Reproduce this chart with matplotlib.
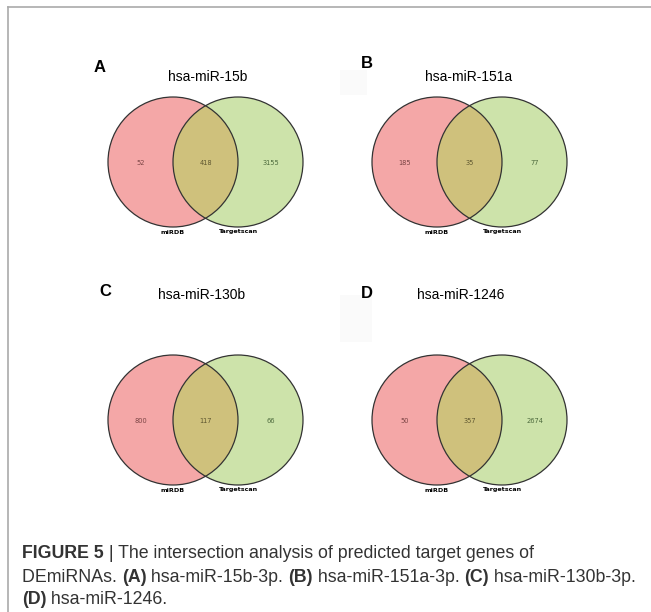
import matplotlib
matplotlib.use("Agg")
import matplotlib.pyplot as plt
from matplotlib.patches import Circle, Rectangle
from matplotlib.lines import Line2D

# Venn data for each panel
panel_letters = ["A", "B", "C", "D"]
panel_titles = ["hsa-miR-15b", "hsa-miR-151a", "hsa-miR-130b", "hsa-miR-1246"]
only_mirdb = [52, 185, 800, 50]
both = [418, 35, 117, 357]
only_targetscan = [3155, 77, 66, 2674]
set_names = ["miRDB", "Targetscan"]

pink = "#f4a7a7"
green = "#cde3aa"
overlap = "#cfc17c"
edge = "#333333"

W, H = 651, 612
fig = plt.figure(figsize=(W / 100, H / 100), dpi=100)
ax = fig.add_axes([0, 0, 1, 1])
ax.set_xlim(0, W)
ax.set_ylim(H, 0)
ax.axis("off")

# page frame (top and left rule)
ax.add_line(Line2D([8, W], [7, 7], color="#aaaaaa", lw=1.2))
ax.add_line(Line2D([8, 8], [7, H], color="#aaaaaa", lw=1.2))

# faint scan artefacts
ax.add_patch(Rectangle((340, 70), 27, 25, color="#fafafa", lw=0))
ax.add_patch(Rectangle((340, 295), 32, 47, color="#fafafa", lw=0))

# layout of the 2x2 grid (pixel positions)
cx_left = [173, 437, 173, 437]
cy = [162, 162, 420, 420]
letter_xy = [(100, 68), (367, 63), (105, 292), (367, 293)]
title_xy = [(208, 77), (469, 77), (202, 295), (461, 295)]
r = 65
d = 65

for i in range(4):
    x1, y = cx_left[i], cy[i]
    x2 = x1 + d
    c1 = Circle((x1, y), r, facecolor=pink, edgecolor="none", zorder=1)
    c2 = Circle((x2, y), r, facecolor=green, edgecolor="none", zorder=1)
    ax.add_patch(c1)
    ax.add_patch(c2)
    lens = Circle((x2, y), r, facecolor=overlap, edgecolor="none", zorder=2)
    ax.add_patch(lens)
    lens.set_clip_path(c1)
    ax.add_patch(Circle((x1, y), r, facecolor="none", edgecolor=edge, lw=0.9, zorder=3))
    ax.add_patch(Circle((x2, y), r, facecolor="none", edgecolor=edge, lw=0.9, zorder=3))

    ax.text(x1 - 32, y + 1, str(only_mirdb[i]), ha="center", va="center",
            fontsize=4.8, color="#7a4444", family="DejaVu Sans")
    ax.text((x1 + x2) / 2, y + 1, str(both[i]), ha="center", va="center",
            fontsize=4.8, color="#5e5630", family="DejaVu Sans")
    ax.text(x2 + 33, y + 1, str(only_targetscan[i]), ha="center", va="center",
            fontsize=4.8, color="#4d6a3d", family="DejaVu Sans")

    ax.text(x1, y + r + 5, set_names[0], ha="center", va="center",
            fontsize=4.6, fontweight="bold", family="DejaVu Sans")
    ax.text(x2, y + r + 5, set_names[1], ha="center", va="center",
            fontsize=4.6, fontweight="bold", family="DejaVu Sans")

    lx, ly = letter_xy[i]
    ax.text(lx, ly, panel_letters[i], ha="center", va="center",
            fontsize=12, fontweight="bold", family="Liberation Sans")
    tx, ty = title_xy[i]
    ax.text(tx, ty, panel_titles[i], ha="center", va="center",
            fontsize=10, family="Liberation Sans")

# caption
cap_font = ["Liberation Sans"]
line1 = [("FIGURE 5", True), (" | The intersection analysis of predicted target genes of", False)]
line2 = [("DEmiRNAs. ", False), ("(A)", True), (" hsa-miR-15b-3p. ", False), ("(B)", True),
         (" hsa-miR-151a-3p. ", False), ("(C)", True), (" hsa-miR-130b-3p.", False)]
line3 = [("(D)", True), (" hsa-miR-1246.", False)]

fig.canvas.draw()
renderer = fig.canvas.get_renderer()


def line_width(parts, size):
    w = 0
    for txt, bold in parts:
        t = ax.text(0, 0, txt, fontsize=size, family=cap_font,
                    fontweight="bold" if bold else "normal")
        w += t.get_window_extent(renderer=renderer).width
        t.remove()
    return w


# pick the size so the second caption line spans the column like the reference
cap_size = 10.5 * 620 / line_width(line2, 10.5)

for line, ybase in [(line1, 553), (line2, 577), (line3, 600)]:
    x = 22
    for txt, bold in line:
        t = ax.text(x, ybase, txt, ha="left", va="center", fontsize=cap_size,
                    fontweight="bold" if bold else "normal", family=cap_font,
                    color="#333333")
        x += t.get_window_extent(renderer=renderer).width

fig.savefig("out.png", dpi=100)
